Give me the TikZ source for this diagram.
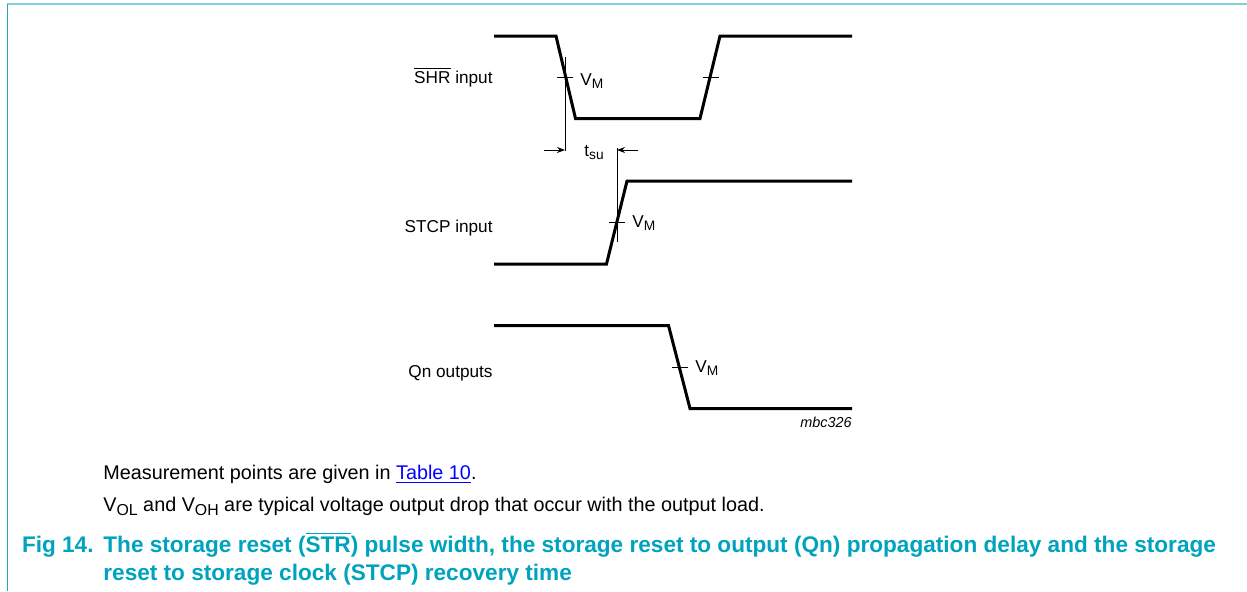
\documentclass[tikz,border=0pt]{standalone}
\usepackage{fontspec}
\setmainfont{Liberation Sans}
\usetikzlibrary{arrows.meta,positioning,calc}
\definecolor{capteal}{RGB}{0,163,190}
\definecolor{framecyan}{RGB}{125,210,222}
\definecolor{frameteal}{RGB}{40,165,185}
\definecolor{linkblue}{RGB}{0,0,255}
\newcommand{\lowidx}[1]{\raisebox{-0.4ex}{\scalebox{0.8}{#1}}}
\newcommand{\vmark}{V\lowidx{M}}

\begin{document}
\begin{tikzpicture}[x=0.5pt, y=-0.5pt, >={Stealth[length=4pt, width=3pt]}]
\tikzset{
  wave/.style={line width=1.5pt, line join=miter},
  hair/.style={line width=0.5pt},
  siglabel/.style={anchor=base east, inner sep=0pt, font=\fontsize{8.6}{10}\selectfont},
  vmlabel/.style={anchor=base west, inner sep=0pt, font=\fontsize{8.6}{10}\selectfont},
  note/.style={anchor=base west, inner sep=0pt, font=\fontsize{9.9}{12}\selectfont},
  figcap/.style={anchor=base west, inner sep=0pt, text=capteal, font=\fontsize{11.3}{13}\selectfont\bfseries}
}
\useasboundingbox (0,0) rectangle (1247,591);

% frame
\draw[framecyan, line width=1.2pt] (7,4) -- (1247,4);
\draw[frameteal, line width=0.5pt] (7,4) -- (7,591);

% waveforms
\coordinate (shrA) at (494,36);
\coordinate (shrB) at (556,36);
\coordinate (shrC) at (575.5,118.5);
\coordinate (shrD) at (700,118.5);
\coordinate (shrE) at (720,36);
\coordinate (shrF) at (852,36);
\draw[wave] (shrA) -- (shrB) -- (shrC) -- (shrD) -- (shrE) -- (shrF);

\coordinate (stcpA) at (494,264);
\coordinate (stcpB) at (606.5,264);
\coordinate (stcpC) at (627,181);
\coordinate (stcpD) at (852,181);
\draw[wave] (stcpA) -- (stcpB) -- (stcpC) -- (stcpD);

\coordinate (qnA) at (494,325.5);
\coordinate (qnB) at (668.5,325.5);
\coordinate (qnC) at (690,408.5);
\coordinate (qnD) at (852,408.5);
\draw[wave] (qnA) -- (qnB) -- (qnC) -- (qnD);

% VM crossings
\draw[hair] (557,77) -- (573,77);
\draw[hair] (702.5,77) -- (718.5,77);
\draw[hair] (609,222.3) -- (625,222.3);
\draw[hair] (671.5,367.3) -- (687.5,367.3);

% set-up time
\coordinate (mkA) at (565,150);
\coordinate (mkB) at (617,150);
\draw[hair] (565,57) -- (565,151);
\draw[hair] (617,148) -- (617,242);
\draw[hair, ->] (544,150) -- (mkA);
\draw[hair, ->] (638,150) -- (mkB);

% labels
\node[siglabel] (shr) at (493,83.5) {$\overline{\mbox{SHR}}$ input};
\node[siglabel] (stcp) at (493,232) {STCP input};
\node[siglabel] (qn) at (493,377) {Qn outputs};
\node[vmlabel] (vmshr) at (580,85) {\vmark};
\node[vmlabel] (vmstcp) at (632,227) {\vmark};
\node[vmlabel] (vmqn) at (695,372) {\vmark};
\node[vmlabel] (tsu) at (584,156) {t\lowidx{su}};
\node[anchor=base east, inner sep=0pt, font=\fontsize{7.2}{9}\selectfont\itshape] (code) at (852,427) {mbc326};

% notes and caption
\node[note] (meas) at (103,479.3) {Measurement points are given in \textcolor{linkblue}{\underline{Table 10}}.};
\node[note] (vol) at (103,511.5) {V\lowidx{OL} and V\lowidx{OH} are typical voltage output drop that occur with the output load.};
\node[figcap, anchor=base east] (fignum) at (94,552) {Fig 14.};
\node[figcap] (capA) at (103,552) {The storage reset ($\overline{\mbox{STR}}$) pulse width, the storage reset to output (Qn) propagation delay and the storage};
\node[figcap] (capB) at (103,580) {reset to storage clock (STCP) recovery time};
\end{tikzpicture}
\end{document}
